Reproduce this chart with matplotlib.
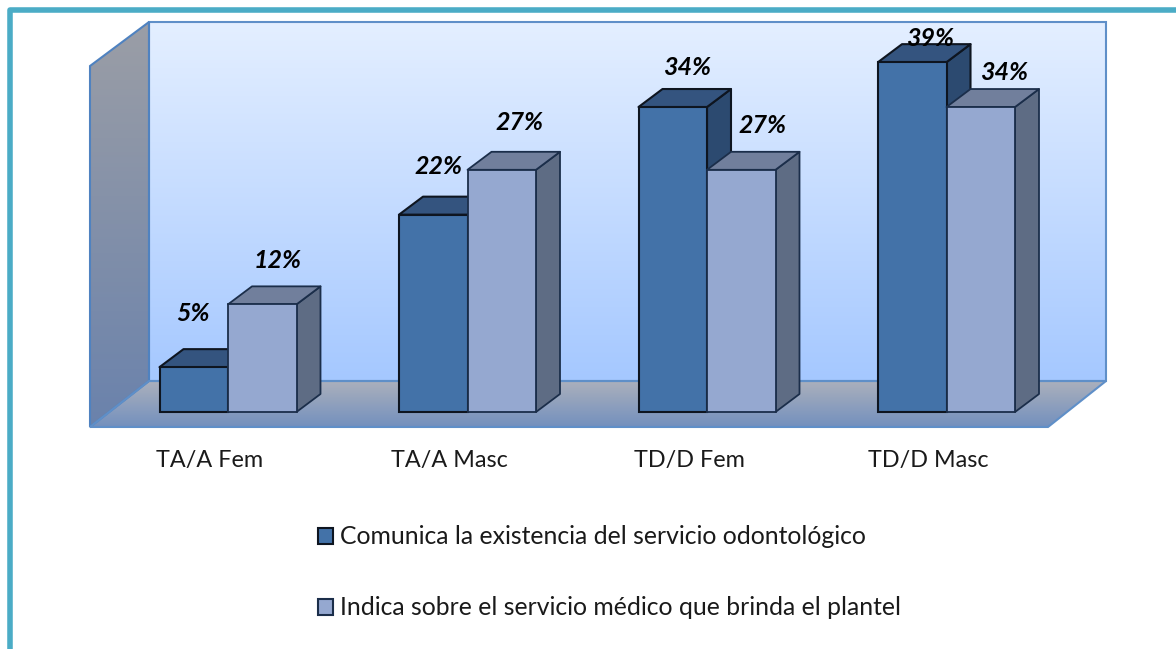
import numpy as np
import matplotlib
matplotlib.use("Agg")
import matplotlib.pyplot as plt
from matplotlib.colors import LinearSegmentedColormap
from matplotlib.patches import Patch, Polygon

plt.rcParams["font.family"] = ["Lato", "DejaVu Sans"]

categories = ["TA/A Fem", "TA/A Masc", "TD/D Fem", "TD/D Masc"]
series_names = [
    "Comunica la existencia del servicio odontológico",
    "Indica sobre el servicio médico que brinda el plantel",
]
odontologico = [5, 22, 34, 39]
medico = [12, 27, 27, 34]

# label nudges from the middle of each bar top, in pixels
nudge_odonto = [(-1, 54), (5, 48), (14, 40), (18, 24)]
nudge_medico = [(15, 44), (18, 47), (21, 44), (23, 35)]

W, H = 1176, 649
fig = plt.figure(figsize=(W / 100, H / 100), dpi=100)

# background: walls, floor and the teal frame, in pixel coordinates
bg = fig.add_axes([0, 0, 1, 1])
bg.axis("off")


def gradient_poly(pts, top, bottom, edge):
    cmap = LinearSegmentedColormap.from_list("g", [top, bottom])
    ys = [p[1] for p in pts]
    xs = [p[0] for p in pts]
    im = bg.imshow(
        np.linspace(0, 1, 256).reshape(-1, 1),
        cmap=cmap,
        aspect="auto",
        extent=(min(xs), max(xs), max(ys), min(ys)),
        zorder=1,
    )
    poly = Polygon(pts, closed=True, fc="none", ec=edge, lw=1.5, zorder=2)
    bg.add_patch(poly)
    im.set_clip_path(poly)


gradient_poly([(149, 22), (1106, 22), (1106, 381), (149, 381)], "#E4EFFF", "#A5C8FF", "#5F8FC8")
gradient_poly([(90, 66), (149, 22), (149, 381), (90, 427)], "#9B9EA6", "#6A82AC", "#4F82C0")
gradient_poly([(90, 427), (149, 381), (1106, 381), (1048, 427)], "#ABB0BC", "#7390BE", "#5F8FC8")
bg.plot([10.3, 10.3, 1180], [655, 10.3, 10.3], color="#4BACC6", lw=4, solid_joinstyle="round", zorder=3)
bg.set_xlim(0, W)
bg.set_ylim(H, 0)

# chart axes: x in category index, y in percent
px_cat = 239.5
px_pct = 8.97
ax = fig.add_axes([0, 0, 1, 1])
ax.axis("off")
ax.patch.set_alpha(0)
ax.set_xlim(-228 / px_cat, (W - 228) / px_cat)
ax.set_ylim(-(H - 412) / px_pct, 412 / px_pct)

width = 68.5 / px_cat
dx = 24 / px_cat
dy = 18 / px_pct

styles = [
    dict(front="#4372A8", top="#34547F", side="#2C4A70", edge="#0E1520", lw=1.5),
    dict(front="#95A8D0", top="#717F9C", side="#5E6C84", edge="#1B2E4A", lw=1.3),
]

z = 5
x = np.arange(len(categories))
for i in x:
    for s, (vals, st) in enumerate(zip([odontologico, medico], styles)):
        v = vals[i]
        x0 = i - width + s * width
        x1 = x0 + width
        kw = dict(ec=st["edge"], lw=st["lw"], joinstyle="round")
        ax.add_patch(Polygon([(x1, 0), (x1 + dx, dy), (x1 + dx, v + dy), (x1, v)], fc=st["side"], zorder=z, **kw))
        ax.add_patch(Polygon([(x0, v), (x0 + dx, v + dy), (x1 + dx, v + dy), (x1, v)], fc=st["top"], zorder=z, **kw))
        ax.bar(x0 + width / 2, v, width, color=st["front"], edgecolor=st["edge"], linewidth=st["lw"], zorder=z + 1)
        z += 2

for i in x:
    for s, (vals, nudges) in enumerate(zip([odontologico, medico], [nudge_odonto, nudge_medico])):
        ax.annotate(
            f"{vals[i]}%",
            xy=(i - width + s * width + width / 2, vals[i]),
            xytext=(nudges[i][0] * 0.72, nudges[i][1] * 0.72),
            textcoords="offset points",
            ha="center",
            va="center",
            fontsize=18,
            fontweight="bold",
            fontstyle="italic",
            color="black",
            zorder=100,
        )

for i, cat in zip(x, categories):
    ax.text(i - 18 / px_cat, -(460 - 412) / px_pct, cat, ha="center", va="center", fontsize=16.8, color="#1a1a1a")

handles = [Patch(fc=st["front"], ec=st["edge"], lw=1.5) for st in styles]
fig.legend(
    handles,
    series_names,
    loc="upper left",
    bbox_to_anchor=(318 / W, 1 - 525.5 / H),
    frameon=False,
    fontsize=17.8,
    handlelength=0.62,
    handleheight=0.62,
    handletextpad=0.29,
    labelspacing=1.93,
    borderpad=0,
    borderaxespad=0,
    labelcolor="#1a1a1a",
)

fig.savefig("out.png", dpi=100)
